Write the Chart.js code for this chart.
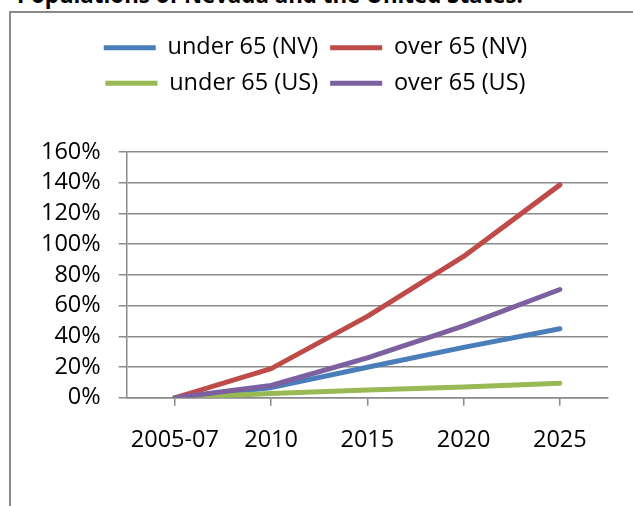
<!DOCTYPE html>
<html>
<head>
<meta charset="utf-8">
<script src="https://cdn.jsdelivr.net/npm/chart.js@4"></script>
<style>
  html, body { margin: 0; padding: 0; background: #fff; overflow: hidden; }
  body { width: 633px; height: 506px; position: relative; }
  #title {
    position: absolute; left: 17px; top: -15px;
    font: bold 22.3px 'Open Sans', sans-serif; line-height: 20px;
    color: #000; white-space: nowrap;
  }
  #box {
    position: absolute; left: 9px; top: 11px;
    width: 660px; height: 540px;
    border: 2px solid #8a8a8a;
  }
  #wrap { position: absolute; left: 0; top: 0; width: 622px; height: 493px; }
</style>
</head>
<body>
<div id="title">Populations of Nevada and the United States.</div>
<div id="box">
  <div id="wrap"><canvas id="chart"></canvas></div>
</div>
<script>
const years = ['2005-07', '2010', '2015', '2020', '2025'];
const under65NV = [0, 6.6, 19.9, 32.8, 44.9];
const over65NV = [0, 19, 53, 92, 138.6];
const under65US = [0, 2.8, 5.1, 7, 9.5];
const over65US = [0, 8, 26, 46.8, 70.5];

const font = { family: "'Open Sans', sans-serif", size: 23.5 };
const gridColor = '#8a8a8a';

function series(label, data, color, order) {
  return {
    label, data, order,
    borderColor: color, backgroundColor: color,
    borderWidth: 5, borderCapStyle: 'round', borderJoinStyle: 'round',
    pointRadius: 0, tension: 0, fill: false,
  };
}

// push the plot down below the legend
const legendGap = {
  id: 'legendGap',
  beforeInit(chart) {
    const fit = chart.legend.fit;
    chart.legend.fit = function () {
      fit.bind(chart.legend)();
      this.height += 47;
    };
  },
};

new Chart(document.getElementById('chart'), {
  type: 'line',
  data: {
    labels: years,
    datasets: [
      series('under 65 (NV)', under65NV, '#4A7EBB', 4),
      series('over 65 (NV)', over65NV, '#BE4B48', 3),
      series('under 65 (US)', under65US, '#98B954', 2),
      series('over 65 (US)', over65US, '#7D60A0', 1),
    ],
  },
  options: {
    responsive: true,
    maintainAspectRatio: false,
    animation: false,
    layout: { padding: { top: 11, left: 12, right: 25, bottom: 32 } },
    plugins: {
      legend: {
        position: 'top',
        labels: {
          usePointStyle: true, pointStyle: 'line', pointStyleWidth: 52,
          padding: 12, color: '#000', font,
          sort: (a, b) => a.datasetIndex - b.datasetIndex,
        },
      },
      tooltip: { enabled: false },
    },
    scales: {
      x: {
        offset: true,
        grid: { drawOnChartArea: false, drawTicks: true, tickLength: 8, color: gridColor, lineWidth: 1.5 },
        border: { color: gridColor, width: 1.5 },
        ticks: { color: '#000', font, padding: 20, maxRotation: 0 },
      },
      y: {
        min: 0, max: 160,
        grid: { color: gridColor, lineWidth: 1.5, tickLength: 8 },
        border: { color: gridColor, width: 1.5 },
        ticks: { stepSize: 20, autoSkip: false, color: '#000', font, padding: 18, callback: v => v + '%' },
      },
    },
  },
  plugins: [legendGap],
});
</script>
</body>
</html>
